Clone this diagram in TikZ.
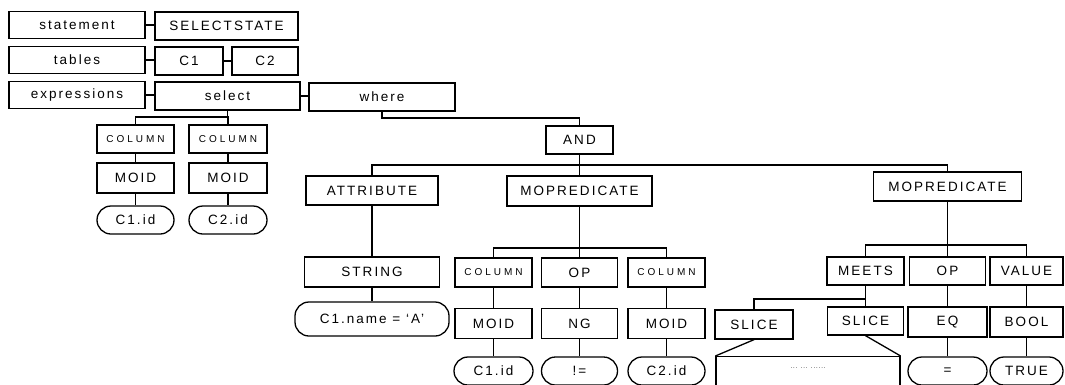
\documentclass[tikz,border=0pt]{standalone}
\usepackage{fontspec}
\newfontfamily\lblfont[LetterSpace=15]{Liberation Sans}
\newfontfamily\smlfont[LetterSpace=30]{Liberation Sans}

\begin{document}
\begin{tikzpicture}
            [
                x=1pt, y=-1pt,
                every node/.style={
                    inner sep=0pt, font=\lblfont\fontsize{13.5}{15}\selectfont
                },
                box/.style={draw, line width=1.3pt, minimum height=28pt},
                leaf/.style={box, rounded corners=14pt},
                wd/.style={minimum width=#1pt},
                ht/.style={minimum height=#1pt},
                small/.style={font=\smlfont\fontsize{10}{11}\selectfont},
                edge/.style={draw, line width=1.3pt}
            ]
            \useasboundingbox (0,0) rectangle (1065,384);

            % header rows
            \node[box, wd=136, ht=27] (statement) at (77,25) {statement};
            \node[box, wd=143] (selstate) at (226.5,26) {SELECTSTATE};
            \node[box, wd=136, ht=27] (tables) at (77,60) {tables};
            \node[box, wd=68] (c1) at (189,61) {C1};
            \node[box, wd=66] (c2) at (265,61) {C2};
            \node[box, wd=136, ht=27] (exprs) at (77,95) {expressions};
            \node[box, wd=145] (select) at (227.5,96) {select};
            \node[box, wd=146] (where) at (382,97) {where};

            % select
            \node[box, small, wd=77] (col1) at (135.5,139) {COLUMN};
            \node[box, small, wd=78] (col2) at (228,139) {COLUMN};
            \node[box, wd=77, ht=30] (moid1) at (135.5,178) {MOID};
            \node[box, wd=78, ht=30] (moid2) at (228,178) {MOID};
            \node[leaf, wd=77] (id1) at (135.5,220) {C1.id};
            \node[leaf, wd=78] (id2) at (228,220) {C2.id};

            % where
            \node[box, wd=67] (and) at (579.5,140) {AND};
            \node[box, wd=132, ht=29] (attr) at (372,190.5) {ATTRIBUTE};
            \node[box, wd=145, ht=30] (mopred1) at (579.5,191) {MOPREDICATE};
            \node[box, wd=148, ht=29] (mopred2) at (947.5,186.5) {MOPREDICATE};
            \node[box, wd=135, ht=30] (string) at (372,272) {STRING};
            \node[leaf, wd=154, ht=34] (cname) at (372,319) {C1.name = ‘A’};

            % left MOPREDICATE
            \node[box, small, wd=77, ht=29] (col3) at (493.5,272.5) {COLUMN};
            \node[box, wd=76, ht=29] (op1) at (579.5,272.5) {OP};
            \node[box, small, wd=77, ht=29] (col4) at (666.5,272.5) {COLUMN};
            \node[box, wd=77, ht=30] (moid3) at (493.5,323.5) {MOID};
            \node[box, wd=76, ht=30] (ng) at (579.5,323.5) {NG};
            \node[box, wd=77, ht=30] (moid4) at (666.5,323.5) {MOID};
            \node[leaf, wd=79] (id3) at (493.5,371) {C1.id};
            \node[leaf, wd=76] (ne) at (579.5,371) {!=};
            \node[leaf, wd=77] (id4) at (666.5,371) {C2.id};

            % right MOPREDICATE
            \node[box, wd=77] (meets) at (865.5,271) {MEETS};
            \node[box, wd=76] (op2) at (947.5,271) {OP};
            \node[box, wd=73] (value) at (1026.5,271) {VALUE};
            \node[box, wd=78, ht=29] (slice1) at (754,324.5) {SLICE};
            \node[box, wd=76] (slice2) at (865.5,321) {SLICE};
            \node[box, wd=79, ht=30] (eq) at (947.5,322) {EQ};
            \node[box, wd=73, ht=30] (bool) at (1026.5,322) {BOOL};
            \node[box, wd=184, ht=40, anchor=north] (detail) at (808,356) {};
            \node[font=\lblfont\fontsize{6}{7}\selectfont] (dots)
                at ([yshift=-12pt]detail.north) {... ... ......};
            \node[leaf, wd=79] (eqsym) at (947.5,371) {=};
            \node[leaf, wd=73] (true) at (1026.5,371) {TRUE};

            % links between header boxes
            \draw[edge] (statement.east) -- (statement.east -| selstate.west);
            \draw[edge] (tables.east) -- (tables.east -| c1.west);
            \draw[edge] (c1.east) -- (c2.west);
            \draw[edge] (exprs.east) -- (exprs.east -| select.west);
            \draw[edge] (select.east) -- (select.east -| where.west);

            % tree edges
            \coordinate (jsel) at (select.south |- 0,117);
            \draw[edge] (select.south) -- (jsel);
            \draw[edge] (col1.north) |- (jsel) -| (col2.north);
            \draw[edge] (col1) -- (moid1) -- (id1);
            \draw[edge] (col2) -- (moid2) -- (id2);

            \coordinate (jwh) at (where.south |- 0,118);
            \draw[edge] (where.south) -- (jwh) -| (and.north);

            \coordinate (jand) at (and.south |- 0,165);
            \draw[edge] (and.south) -- (jand) -- (mopred1.north);
            \draw[edge] (attr.north) |- (jand) -| (mopred2.north);
            \draw[edge] (attr) -- (string) -- (cname);

            \coordinate (jmp1) at (mopred1.south |- 0,248);
            \draw[edge] (mopred1.south) -- (jmp1) -- (op1.north);
            \draw[edge] (col3.north) |- (jmp1) -| (col4.north);
            \draw[edge] (col3) -- (moid3) -- (id3);
            \draw[edge] (op1) -- (ng) -- (ne);
            \draw[edge] (col4) -- (moid4) -- (id4);

            \coordinate (jmp2) at (mopred2.south |- 0,245);
            \draw[edge] (mopred2.south) -- (jmp2) -- (op2.north);
            \draw[edge] (meets.north) |- (jmp2) -| (value.north);
            \draw[edge] (op2) -- (eq) -- (eqsym);
            \draw[edge] (value) -- (bool) -- (true);

            \coordinate (jmt) at (meets.south |- 0,299);
            \draw[edge] (meets) -- (slice2);
            \draw[edge] (jmt) -| (slice1.north);
            \draw[edge] (slice1.south) -- (detail.north west);
            \draw[edge] (slice2.south) -- (detail.north east);
\end{tikzpicture}
\end{document}
